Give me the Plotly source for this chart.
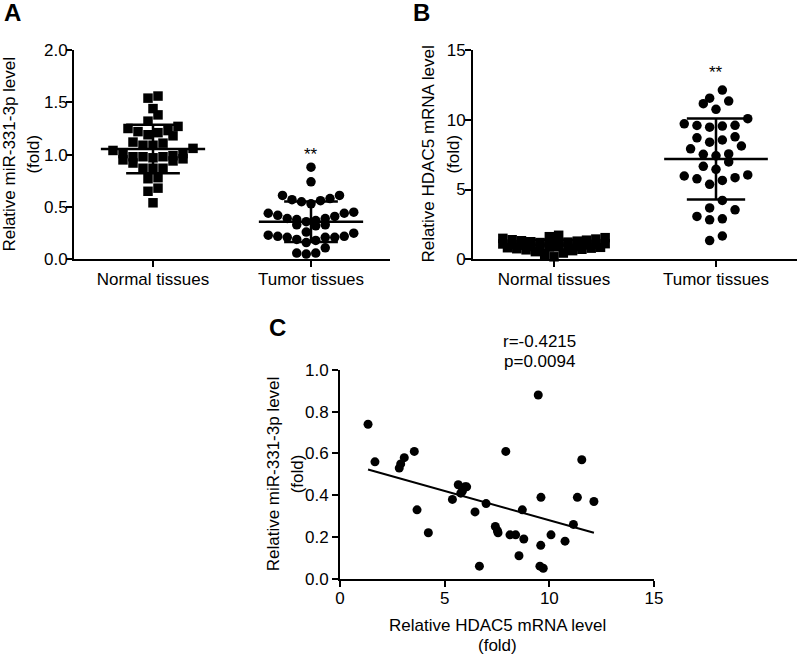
import numpy as np
import plotly.graph_objects as go

# ---------------- data ----------------
categories = ["Normal tissues", "Tumor tissues"]

# Panel A: relative miR-331-3p level (fold)
normal_mir = [1.56, 1.54, 1.44, 1.38, 1.32, 1.27, 1.25, 1.22, 1.19, 1.18, 1.21, 1.23,
              1.11, 1.12, 1.09, 1.09, 1.06, 1.04, 1.01, 0.99, 1.01, 0.98, 0.97, 0.96,
              0.94, 0.98, 0.98, 0.95, 0.92, 0.87, 0.87, 0.87, 0.77, 0.78, 0.68, 0.65, 0.54]

# Tumor samples (paired): HDAC5 mRNA level and miR-331-3p level
tumor_hdac5 = [1.34, 1.67, 2.83, 2.90, 3.07, 3.55, 3.68, 4.22, 5.37, 5.65, 5.77, 5.85,
               5.97, 6.05, 6.45, 6.66, 6.98, 7.42, 7.52, 7.55, 7.92, 8.12, 8.39, 8.55,
               8.71, 8.78, 9.47, 9.55, 9.59, 9.60, 9.71, 10.08, 10.75, 11.15, 11.34,
               11.55, 12.13]
tumor_mir = [0.74, 0.56, 0.53, 0.55, 0.58, 0.61, 0.33, 0.22, 0.38, 0.45, 0.41, 0.42,
             0.44, 0.44, 0.32, 0.06, 0.36, 0.25, 0.23, 0.22, 0.61, 0.21, 0.21, 0.11,
             0.33, 0.19, 0.88, 0.06, 0.16, 0.39, 0.05, 0.21, 0.18, 0.26, 0.39, 0.57, 0.37]

# Panel B: normal tissue HDAC5 mRNA level (fold)
normal_hdac5 = [0.18, 0.32, 0.45, 0.55, 0.62, 0.68, 0.72, 0.76, 0.80, 0.83, 0.86, 0.88,
                0.90, 0.92, 0.95, 0.97, 0.99, 1.01, 1.03, 1.05, 1.08, 1.10, 1.12, 1.15,
                1.18, 1.20, 1.23, 1.26, 1.30, 1.33, 1.37, 1.40, 1.45, 1.50, 1.55, 1.62, 1.72]

a_yticks = [0.0, 0.5, 1.0, 1.5, 2.0]
b_yticks = [0, 5, 10, 15]
c_xticks = [0, 5, 10, 15]
c_yticks = [0.0, 0.2, 0.4, 0.6, 0.8, 1.0]
stat_text = ["r=-0.4215", "p=0.0094"]
sig_text = "**"

# ---------------- geometry (pixels) ----------------
W, H = 800, 656
A_X = (74, 390)
B_X = (473, 797)
AB_Y = (50, 259.3)          # top, bottom
C_X = (340, 654)
C_Y = (370, 578.7)

FONT = "Liberation Sans, Arial, sans-serif"
FS = 17


def px(x):
    return x / W


def py(y):
    return 1 - y / H


def swarm(values, bin_h, max_row):
    """GraphPad-like scatter: bin close values into rows, lowest in the centre."""
    vals = np.asarray(values, float)
    order = np.argsort(vals, kind="stable")
    bins, cur, start = [], [], None
    for i in order:
        v = vals[i]
        if cur and (v - start > bin_h or len(cur) >= max_row):
            bins.append(cur)
            cur = []
        if not cur:
            start = v
        cur.append(i)
    if cur:
        bins.append(cur)
    off = np.zeros(len(vals))
    for b in bins:
        n = len(b)
        if n % 2:
            slots = [0.0]
            for k in range(1, n):
                slots.append(-((k + 1) // 2) if k % 2 else (k // 2))
        else:
            slots = []
            for k in range(n):
                s = 0.5 + k // 2
                slots.append(-s if k % 2 == 0 else s)
        for k, i in enumerate(b):
            off[i] = slots[k]
    return off


def group_x(values, center, xpx_per_unit, ypx_per_unit, marker_px, spacing_px, max_row=12):
    off = swarm(values, marker_px / ypx_per_unit, max_row)
    return center + off * spacing_px / xpx_per_unit


def mean_sd_trace(values, center, xref, yref, half_mean=0.33, half_cap=0.17):
    v = np.asarray(values, float)
    m, s = v.mean(), v.std(ddof=1)
    xs = [center - half_mean, center + half_mean, None,
          center, center, None,
          center - half_cap, center + half_cap, None,
          center - half_cap, center + half_cap]
    ys = [m, m, None, m - s, m + s, None, m + s, m + s, None, m - s, m - s]
    return go.Scatter(x=xs, y=ys, mode="lines", xaxis=xref, yaxis=yref,
                      line=dict(color="black", width=2.5), hoverinfo="skip",
                      cliponaxis=False)


fig = go.Figure()

# ---------------- panel A ----------------
ax_xppu = (A_X[1] - A_X[0]) / 2.0
ax_yppu = (AB_Y[1] - AB_Y[0]) / 2.0
xa_n = group_x(normal_mir, 0, ax_xppu, ax_yppu, 9.5, 10.0)
xa_t = group_x(tumor_mir, 1, ax_xppu, ax_yppu, 9.5, 9.5)
fig.add_trace(go.Scatter(x=xa_n, y=normal_mir, mode="markers", xaxis="x", yaxis="y",
                         marker=dict(symbol="square", size=9.5, color="black"),
                         cliponaxis=False))
fig.add_trace(go.Scatter(x=xa_t, y=tumor_mir, mode="markers", xaxis="x", yaxis="y",
                         marker=dict(symbol="circle", size=9.5, color="black"),
                         cliponaxis=False))
fig.add_trace(mean_sd_trace(normal_mir, 0, "x", "y"))
fig.add_trace(mean_sd_trace(tumor_mir, 1, "x", "y"))

# ---------------- panel B ----------------
bx_xppu = (B_X[1] - B_X[0]) / 2.0
bx_yppu = (AB_Y[1] - AB_Y[0]) / 15.0
xb_n = group_x(normal_hdac5, 0, bx_xppu, bx_yppu, 9.5, 9.3, max_row=12)
xb_t = group_x(tumor_hdac5, 1, bx_xppu, bx_yppu, 10.5, 12.7)
fig.add_trace(go.Scatter(x=xb_n, y=normal_hdac5, mode="markers", xaxis="x2", yaxis="y2",
                         marker=dict(symbol="square", size=9.5, color="black"),
                         cliponaxis=False))
fig.add_trace(go.Scatter(x=xb_t, y=tumor_hdac5, mode="markers", xaxis="x2", yaxis="y2",
                         marker=dict(symbol="circle", size=9.5, color="black"),
                         cliponaxis=False))
fig.add_trace(mean_sd_trace(normal_hdac5, 0, "x2", "y2", 0.32, 0.18))
fig.add_trace(mean_sd_trace(tumor_hdac5, 1, "x2", "y2", 0.32, 0.18))

# ---------------- panel C ----------------
fig.add_trace(go.Scatter(x=tumor_hdac5, y=tumor_mir, mode="markers", xaxis="x3", yaxis="y3",
                         marker=dict(symbol="circle", size=9, color="black"),
                         cliponaxis=False))
slope, intercept = np.polyfit(tumor_hdac5, tumor_mir, 1)
xl = np.array([min(tumor_hdac5), max(tumor_hdac5)])
fig.add_trace(go.Scatter(x=xl, y=slope * xl + intercept, mode="lines", xaxis="x3", yaxis="y3",
                         line=dict(color="black", width=2), hoverinfo="skip"))

# ---------------- axes ----------------
common = dict(showline=True, linecolor="black", linewidth=2, ticks="outside",
              ticklen=6, tickwidth=2, tickcolor="black", showgrid=False,
              zeroline=False, automargin=False,
              tickfont=dict(size=FS, color="black", family=FONT))

fig.update_layout(
    width=W, height=H, margin=dict(l=0, r=0, t=0, b=0, autoexpand=False),
    paper_bgcolor="white", plot_bgcolor="white", showlegend=False,
    font=dict(family=FONT, color="black", size=FS),
    xaxis=dict(domain=[px(A_X[0]), px(A_X[1])], range=[-0.5, 1.5],
               tickvals=[0, 1], ticktext=categories, anchor="y",
               ticklabelstandoff=-3, **common),
    yaxis=dict(domain=[py(AB_Y[1]), py(AB_Y[0])], range=[0, 2],
               tickvals=a_yticks, tickformat=".1f", anchor="x",
               ticklabelstandoff=-5, **common),
    xaxis2=dict(domain=[px(B_X[0]), px(B_X[1])], range=[-0.5, 1.5],
                tickvals=[0, 1], ticktext=categories, anchor="y2",
                ticklabelstandoff=-3, **common),
    yaxis2=dict(domain=[py(AB_Y[1]), py(AB_Y[0])], range=[0, 15],
                tickvals=b_yticks, anchor="x2", ticklabelstandoff=-4, **common),
    xaxis3=dict(domain=[px(C_X[0]), px(C_X[1])], range=[0, 15],
                tickvals=c_xticks, anchor="y3", ticklabelstandoff=-3, **common),
    yaxis3=dict(domain=[py(C_Y[1]), py(C_Y[0])], range=[0, 1],
                tickvals=c_yticks, tickformat=".1f", anchor="x3", **common),
)


def ann(text, x, y, size=FS, angle=0, bold=False, xref="paper", yref="paper"):
    fig.add_annotation(text=f"<b>{text}</b>" if bold else text, x=x, y=y,
                       xref=xref, yref=yref, showarrow=False, textangle=angle,
                       xanchor="center", yanchor="middle",
                       font=dict(size=size, color="black", family=FONT))


# panel letters
ann("A", px(12), py(12), size=24, bold=True)
ann("B", px(421.5), py(13), size=24, bold=True)
ann("C", px(277.5), py(327.5), size=24, bold=True)

# y-axis titles (two lines each)
ann("Relative miR-331-3p level", px(10), py(154.6), angle=-90)
ann("(fold)", px(34), py(154.6), angle=-90)
ann("Relative HDAC5 mRNA level", px(429), py(154.6), angle=-90)
ann("(fold)", px(454), py(154.6), angle=-90)
ann("Relative miR-331-3p level", px(273), py(474.3), angle=-90)
ann("(fold)", px(297), py(474.3), angle=-90)
# x-axis title of C
ann("Relative HDAC5 mRNA level", px(497), py(625))
ann("(fold)", px(497), py(645))

# significance marks
ann(sig_text, 1, 1.0, size=FS, xref="x", yref="y")
ann(sig_text, 1, 13.4, size=FS, xref="x2", yref="y2")

# correlation statistics
ann(stat_text[0], px(539), py(341))
ann(stat_text[1], px(539), py(361))

fig.write_html("out.html",
               config={"displayModeBar": False},
               post_script="document.body.style.margin='0';"
                           "document.body.style.overflow='hidden';")
